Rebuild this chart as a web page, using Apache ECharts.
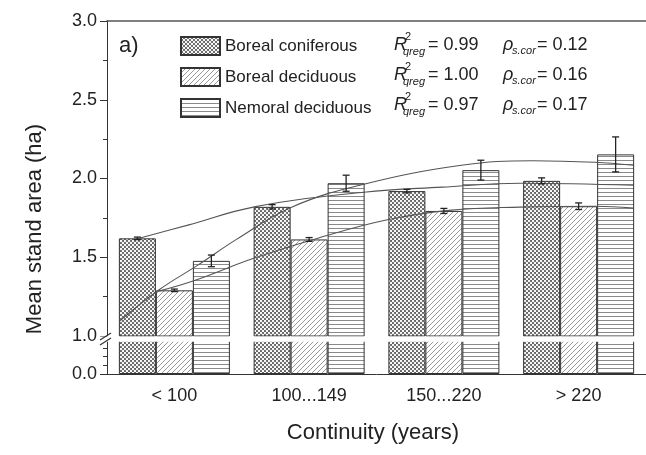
<!DOCTYPE html>
<html><head><meta charset="utf-8">
<script src="https://cdn.jsdelivr.net/npm/echarts@6/dist/echarts.min.js"></script>
<style>html,body{margin:0;padding:0;background:#fff}#c{width:646px;height:455px}</style>
</head><body><div id="c"></div>
<script>
// ---- data ----
const categories = ['< 100', '100...149', '150...220', '> 220'];
const seriesNames = ['Boreal coniferous', 'Boreal deciduous', 'Nemoral deciduous'];
const coniferous = [1.62, 1.82, 1.92, 1.985];
const coniferousErr = [0.008, 0.014, 0.011, 0.019];
const deciduous = [1.29, 1.613, 1.794, 1.824];
const deciduousErr = [0.008, 0.012, 0.016, 0.021];
const nemoral = [1.477, 1.97, 2.053, 2.153];
const nemoralErr = [0.037, 0.051, 0.063, 0.111];
// fitted curves: [category position, value]
const coniferousFit = [[-0.275,1.618],[0.101,1.704],[0.594,1.820],[1.406,1.913],[1.986,1.945],[2.565,1.970],[3.406,1.957]];
const deciduousFit = [[-0.116,1.285],[0.138,1.349],[0.594,1.495],[1.065,1.621],[1.572,1.736],[2.058,1.799],[2.565,1.818],[3.123,1.824],[3.406,1.812]];
const nemoralFit = [[-0.406,1.095],[-0.116,1.292],[0.174,1.450],[0.464,1.615],[0.870,1.818],[1.406,1.964],[2.130,2.084],[2.659,2.113],[3.123,2.103],[3.406,2.084]];
const r2Values = ['0.99', '1.00', '0.97'];
const rhoValues = ['0.12', '0.16', '0.17'];
const upperTicks = {min: 1, max: 3, interval: 0.5};
const lowerTicks = {min: 0, max: 1, interval: 1};

// ---- patterns ----
function tile(w, h, draw) {
  const c = document.createElement('canvas'); c.width = w; c.height = h;
  const ctx = c.getContext('2d'); ctx.fillStyle = '#fff'; ctx.fillRect(0, 0, w, h); draw(ctx); return c;
}
const conTile = tile(4, 4, ctx => {
  ctx.fillStyle = '#666'; ctx.fillRect(0, 0, 4, 4);
  ctx.fillStyle = '#fff';
  [[1,1],[3,3]].forEach(p => { ctx.beginPath(); ctx.arc(p[0], p[1], 1.15, 0, Math.PI*2); ctx.fill(); });
});
const decTile = tile(5, 5, ctx => {
  ctx.strokeStyle = '#8c8c8c'; ctx.lineWidth = 0.9;
  [[0,5,5,0],[-1,1,1,-1],[4,6,6,4]].forEach(l => { ctx.beginPath(); ctx.moveTo(l[0], l[1]); ctx.lineTo(l[2], l[3]); ctx.stroke(); });
});
const nemTile = tile(4, 4, ctx => { ctx.fillStyle = '#8a8a8a'; ctx.fillRect(0, 0, 4, 1); });
const patterns = [conTile, decTile, nemTile].map(t => ({image: t, repeat: 'repeat'}));
const values = [coniferous, deciduous, nemoral];
const errs = [coniferousErr, deciduousErr, nemoralErr];
const fits = [coniferousFit, deciduousFit, nemoralFit];

const FONT = 'Liberation Sans, Arial, sans-serif';
const BW = 37;

const chart = echarts.init(document.getElementById('c'), null, {renderer: 'canvas'});
const series = [];
values.forEach((vals, k) => {
  [0, 1].forEach(g => {
    series.push({
      type: 'bar', name: seriesNames[k], xAxisIndex: g === 0 ? 0 : 2, yAxisIndex: g,
      data: vals, barWidth: BW, barGap: '0%', clip: true, silent: true,
      itemStyle: {color: patterns[k], borderColor: '#333', borderWidth: 1}
    });
  });
});
values.forEach((vals, k) => {
  series.push({
    type: 'custom', xAxisIndex: 0, yAxisIndex: 0, z: 6, silent: true,
    data: vals.map((v, i) => [i, v, errs[k][i]]),
    renderItem: (params, api) => {
      const i = api.value(0), v = api.value(1), e = api.value(2);
      const x = api.coord([i, v])[0] + (k - 1) * BW;
      const y1 = api.coord([i, v + e])[1], y2 = api.coord([i, v - e])[1];
      const st = {stroke: '#222', lineWidth: 1.3};
      return {type: 'group', children: [
        {type: 'line', shape: {x1: x, y1: y1, x2: x, y2: y2}, style: st},
        {type: 'line', shape: {x1: x - 3.5, y1: y1, x2: x + 3.5, y2: y1}, style: st},
        {type: 'line', shape: {x1: x - 3.5, y1: y2, x2: x + 3.5, y2: y2}, style: st}
      ]};
    }
  });
});
fits.forEach(f => {
  series.push({type: 'line', xAxisIndex: 1, yAxisIndex: 0, data: f, smooth: 0.4, showSymbol: false, silent: true, z: 5,
    lineStyle: {color: '#555', width: 1.1}});
});

function statRow(r) {
  const cy = 45 + 30 * r;
  const t = (x, y, text, size, italic) => ({type: 'text', x: x, y: y, z: 50,
    style: {text: text, font: (italic ? 'italic ' : '') + size + 'px ' + FONT, fill: '#222', verticalAlign: 'middle'}});
  return [
    t(394, cy, 'R', 18, true), t(405, cy - 8, '2', 11, false), t(403, cy + 7, 'qreg', 11, true),
    t(428, cy, '= ' + r2Values[r], 18, false),
    t(503, cy, 'ρ', 18, true), t(512, cy + 6, 's.cor', 11, true),
    t(537, cy, '= ' + rhoValues[r], 18, false)
  ];
}

const option = {
  animation: false,
  backgroundColor: '#fff',
  textStyle: {fontFamily: FONT},
  grid: [
    {left: 107, top: 21, width: 552, height: 315},
    {left: 107, top: 339, width: 552, height: 35}
  ],
  legend: {
    data: seriesNames.map(n => ({name: n, icon: 'rect'})), orient: 'vertical', left: 180, top: 36, padding: 0,
    itemWidth: 39, itemHeight: 18, itemGap: 11, selectedMode: false,
    textStyle: {fontSize: 17, color: '#222', fontFamily: FONT}
  },
  xAxis: [
    {type: 'category', gridIndex: 0, data: categories, position: 'top',
      axisLine: {onZero: false, lineStyle: {color: '#555', width: 1.5}}, axisTick: {show: false}, axisLabel: {show: false}},
    {type: 'value', gridIndex: 0, min: -0.5, max: 3.5, show: false, axisLine: {onZero: false}},
    {type: 'category', gridIndex: 1, data: categories, position: 'bottom',
      axisLine: {onZero: false, lineStyle: {color: '#333', width: 1}},
      axisTick: {alignWithLabel: true, length: 7, lineStyle: {color: '#333'}},
      axisLabel: {fontSize: 18, color: '#222', margin: 13, fontFamily: FONT}},
    {type: 'category', gridIndex: 1, data: categories, position: 'bottom',
      axisLine: {show: false, onZero: false}, axisTick: {length: 3, lineStyle: {color: '#333'}}, axisLabel: {show: false}}
  ],
  yAxis: [
    {type: 'value', gridIndex: 0, min: upperTicks.min, max: upperTicks.max, interval: upperTicks.interval, position: 'left',
      axisLine: {show: true, onZero: false, lineStyle: {color: '#333'}},
      axisTick: {show: true, length: 7, lineStyle: {color: '#333'}},
      minorTick: {show: true, splitNumber: 2, length: 4, lineStyle: {color: '#333'}},
      splitLine: {show: false},
      axisLabel: {fontSize: 18, color: '#222', margin: 10, formatter: v => v.toFixed(1), fontFamily: FONT}},
    {type: 'value', gridIndex: 1, min: lowerTicks.min, max: lowerTicks.max, interval: lowerTicks.interval, position: 'left',
      axisLine: {show: true, onZero: false, lineStyle: {color: '#333'}},
      axisTick: {show: true, length: 7, lineStyle: {color: '#333'}},
      minorTick: {show: true, splitNumber: 4, length: 4, lineStyle: {color: '#333'}},
      splitLine: {show: false},
      axisLabel: {fontSize: 18, color: '#222', margin: 10, formatter: v => (v === 0 ? '0.0' : ''), fontFamily: FONT}}
  ],
  series: series,
  graphic: [
    {type: 'rect', z: 40, shape: {x: 99, y: 336.5, width: 560, height: 5.2}, style: {fill: '#fff'}},
    {type: 'line', z: 45, shape: {x1: 100, y1: 340, x2: 111, y2: 333}, style: {stroke: '#333', lineWidth: 1.2}},
    {type: 'line', z: 45, shape: {x1: 100, y1: 345, x2: 111, y2: 338}, style: {stroke: '#333', lineWidth: 1.2}},
    {type: 'text', x: 119, y: 46, z: 50, style: {text: 'a)', font: '22px ' + FONT, fill: '#222', verticalAlign: 'middle'}},
    {type: 'text', x: 35, y: 229, z: 50, rotation: Math.PI / 2,
      style: {text: 'Mean stand area (ha)', font: '22px ' + FONT, fill: '#222', align: 'center', verticalAlign: 'middle'}},
    {type: 'text', x: 373, y: 433, z: 50,
      style: {text: 'Continuity (years)', font: '22px ' + FONT, fill: '#222', align: 'center', verticalAlign: 'middle'}}
  ].concat(statRow(0), statRow(1), statRow(2))
};
chart.setOption(option);
</script></body></html>
